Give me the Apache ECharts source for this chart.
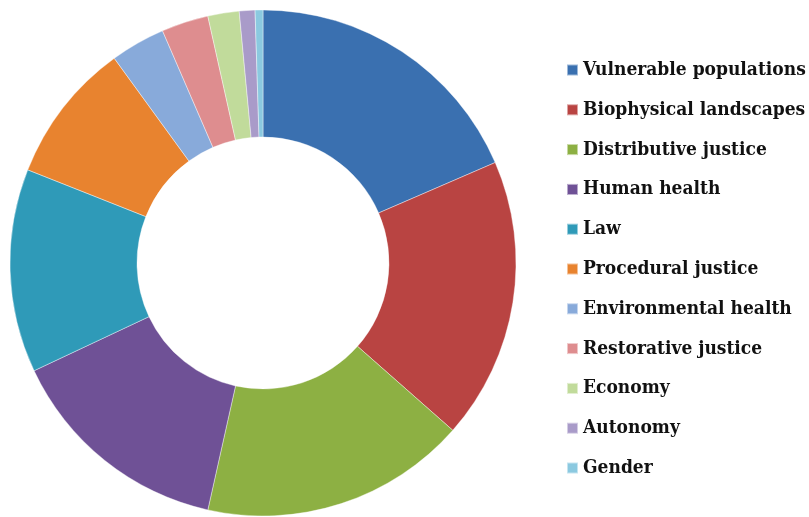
<!DOCTYPE html>
<html>
<head>
<meta charset="utf-8">
<script src="https://cdn.jsdelivr.net/npm/echarts@6/dist/echarts.min.js"></script>
<style>
    html, body { margin: 0; padding: 0; background: #fff; }
    #chart { width: 809px; height: 517px; }
</style>
</head>
<body>
<div id="chart"></div>
<script>
// categories (clockwise from the top)
const categories = [
    'Vulnerable populations',
    'Biophysical landscapes',
    'Distributive justice',
    'Human health',
    'Law',
    'Procedural justice',
    'Environmental health',
    'Restorative justice',
    'Economy',
    'Autonomy',
    'Gender'
]
// values
const counts = [37, 36, 34, 29, 26, 18, 7, 6, 4, 2, 1]

const colors = [
    '#3a70b0', '#b94442', '#8db043', '#6f5196', '#2f9ab8', '#e8832f',
    '#88aada', '#de8d8f', '#c1db9b', '#a99bc9', '#8bc9e0'
]

const chart = echarts.init(document.getElementById('chart'))

const option = {
    color: colors,
    animation: false,
    legend: {
        orient: 'vertical',
        left: 561,
        top: 55,
        icon: 'rect',
        itemWidth: 11,
        itemHeight: 11,
        itemGap: 19.8,
        textStyle: {
            // Times-like look: condensed serif bold
            fontFamily: '"DejaVu Serif Condensed", "DejaVu Serif"',
            fontWeight: 'bold',
            fontSize: 19,
            lineHeight: 20,
            color: '#111'
        },
        data: categories
    },
    series: [
        {
            type: 'pie',
            center: [263, 263],
            radius: [126, 253],
            startAngle: 90,
            clockwise: true,
            label: { show: false },
            labelLine: { show: false },
            itemStyle: {
                borderColor: 'rgba(255,255,255,0.5)',
                borderWidth: 0.8
            },
            emphasis: { disabled: true },
            data: categories.map((name, i) => ({ name: name, value: counts[i] }))
        }
    ]
}

chart.setOption(option)
window.addEventListener('resize', () => chart.resize())
</script>
</body>
</html>
